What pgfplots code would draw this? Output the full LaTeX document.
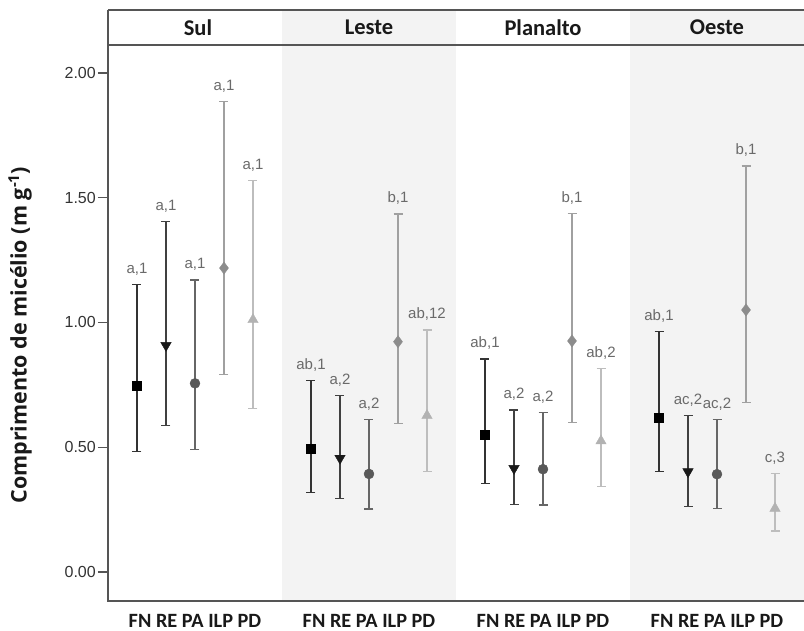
\documentclass[border=0pt]{standalone}
\usepackage{pgfplots}
\pgfplotsset{compat=1.18}
\usepackage{pgfplotstable}
\usepackage{fontspec}
\setmainfont{Liberation Sans}
\newfontfamily\carlito{Carlito}
\newfontfamily\opensans{Open Sans}
\definecolor{frame}{HTML}{555555}
\definecolor{panelgray}{HTML}{F3F3F3}
\definecolor{cFN}{HTML}{333333}
\definecolor{cRE}{HTML}{404040}
\definecolor{cPA}{HTML}{666666}
\definecolor{cILP}{HTML}{A0A0A0}
\definecolor{cPD}{HTML}{BDBDBD}
\definecolor{lab}{HTML}{6A6A6A}

\pgfplotstableread{
x y top bot label
1 0.745 1.152 0.483 {a,1}
7 0.493 0.767 0.319 {ab,1}
13 0.549 0.854 0.355 {ab,1}
19 0.619 0.963 0.402 {ab,1}
}\FN
\pgfplotstableread{
x y top bot label
2 0.908 1.404 0.586 {a,1}
8 0.456 0.708 0.294 {a,2}
14 0.415 0.649 0.271 {a,2}
20 0.402 0.627 0.262 {ac,2}
}\RE
\pgfplotstableread{
x y top bot label
3 0.756 1.170 0.490 {a,1}
9 0.393 0.612 0.252 {a,2}
15 0.412 0.639 0.269 {a,2}
21 0.392 0.612 0.255 {ac,2}
}\PA
\pgfplotstableread{
x y top bot label
4 1.218 1.887 0.790 {a,1}
10 0.923 1.435 0.596 {b,1}
16 0.926 1.438 0.599 {b,1}
22 1.050 1.627 0.679 {b,1}
}\ILP
\pgfplotstableread{
x y top bot label
5 1.011 1.570 0.655 {a,1}
11 0.627 0.970 0.402 {ab,12}
17 0.525 0.816 0.342 {ab,2}
23 0.255 0.396 0.164 {c,3}
}\PD

\begin{document}
\begin{tikzpicture}
\useasboundingbox (-108pt,-30pt) rectangle (696pt,601pt);
\begin{axis}[
  at={(0,0)}, anchor=south west,
  width=696pt, height=556pt, scale only axis,
  xmin=0, xmax=24, ymin=-0.1162, ymax=2.112,
  clip=false,
  axis line style={draw=none},
  xtick={3,9,15,21},
  xticklabels={FN RE PA ILP PD,FN RE PA ILP PD,FN RE PA ILP PD,FN RE PA ILP PD},
  xticklabel style={font=\carlito\bfseries\fontsize{20.3}{20}\selectfont, text=black!90, yshift=0pt},
  x tick label style={inner sep=3pt},
  major x tick style={draw=none},
  ytick={0,0.5,1,1.5,2},
  yticklabels={0.00,0.50,1.00,1.50,2.00},
  yticklabel style={font=\fontsize{16}{16}\selectfont, text=black!80, inner sep=2pt},
  /pgf/number format/assume math mode=true,
  tick align=outside,
  major tick length=10pt,
  major y tick style={draw=frame, line width=1.2pt},
  nodes near coords style={font=\fontsize{15}{15}\selectfont, text=lab, anchor=south, inner sep=1pt, yshift=8pt},
]
% shaded panels
\fill[panelgray] (axis cs:6,-0.1162) rectangle (axis cs:12,2.2525);
\fill[panelgray] (axis cs:18,-0.1162) rectangle (axis cs:24,2.2525);
% frame
\draw[frame, line width=1.5pt] (axis cs:0,2.2525) -- (axis cs:0,-0.1162) -- (axis cs:24,-0.1162);
\draw[frame, line width=1.5pt] (axis cs:0,2.2525) -- (axis cs:24,2.2525);
\draw[frame, line width=1.5pt] (axis cs:0,2.112) -- (axis cs:24,2.112);
% headers
\node[font=\carlito\bfseries\fontsize{22.5}{22}\selectfont, text=black!90] at (axis cs:3.1,2.182) {Sul};
\node[font=\carlito\bfseries\fontsize{22.5}{22}\selectfont, text=black!90] at (axis cs:9,2.182) {Leste};
\node[font=\carlito\bfseries\fontsize{22.5}{22}\selectfont, text=black!90] at (axis cs:15,2.182) {Planalto};
\node[font=\carlito\bfseries\fontsize{22.5}{22}\selectfont, text=black!90] at (axis cs:21,2.182) {Oeste};
% y label
\node[rotate=90, font=\opensans\bfseries\fontsize{21.5}{21.5}\selectfont, text=black!90] at (axis description cs:-0.1264,0.478) {Comprimento de micélio (m g\textsuperscript{-1})};

% FN
\addplot[cFN, only marks, mark=square*, mark size=4.6pt, mark options={fill=black, draw=black},
  error bars/.cd, y dir=both, y explicit, error bar style={line width=2pt, cFN},
  error mark options={rotate=90, mark size=4.5pt, line width=1.4pt, cFN}]
  table[x=x, y=y, y error plus expr=\thisrow{top}-\thisrow{y}, y error minus expr=\thisrow{y}-\thisrow{bot}] {\FN};
% RE
\addplot[cRE, only marks, mark=triangle*, mark size=6pt, mark options={rotate=180, fill=black!90, draw=black!90},
  error bars/.cd, y dir=both, y explicit, error bar style={line width=1.8pt, cRE},
  error mark options={rotate=90, mark size=4.5pt, line width=1.3pt, cRE}]
  table[x=x, y=y, y error plus expr=\thisrow{top}-\thisrow{y}, y error minus expr=\thisrow{y}-\thisrow{bot}] {\RE};
% PA
\addplot[cPA, only marks, mark=*, mark size=5pt, mark options={fill=black!65, draw=black!65},
  error bars/.cd, y dir=both, y explicit, error bar style={line width=1.7pt, cPA},
  error mark options={rotate=90, mark size=4.5pt, line width=1.3pt, cPA}]
  table[x=x, y=y, y error plus expr=\thisrow{top}-\thisrow{y}, y error minus expr=\thisrow{y}-\thisrow{bot}] {\PA};
% ILP
\addplot[cILP, only marks, mark=diamond*, mark size=6pt, mark options={fill=black!45, draw=black!45},
  error bars/.cd, y dir=both, y explicit, error bar style={line width=1.6pt, cILP},
  error mark options={rotate=90, mark size=4.5pt, line width=1.2pt, cILP}]
  table[x=x, y=y, y error plus expr=\thisrow{top}-\thisrow{y}, y error minus expr=\thisrow{y}-\thisrow{bot}] {\ILP};
% PD
\addplot[cPD, only marks, mark=triangle*, mark size=6pt, mark options={fill=black!30, draw=black!30},
  error bars/.cd, y dir=both, y explicit, error bar style={line width=1.5pt, cPD},
  error mark options={rotate=90, mark size=4.5pt, line width=1.2pt, cPD}]
  table[x=x, y=y, y error plus expr=\thisrow{top}-\thisrow{y}, y error minus expr=\thisrow{y}-\thisrow{bot}] {\PD};

% letters
\addplot[only marks, mark=none, nodes near coords, point meta=explicit symbolic] table[x=x, y=top, meta=label] {\FN};
\addplot[only marks, mark=none, nodes near coords, point meta=explicit symbolic] table[x=x, y=top, meta=label] {\RE};
\addplot[only marks, mark=none, nodes near coords, point meta=explicit symbolic] table[x=x, y=top, meta=label] {\PA};
\addplot[only marks, mark=none, nodes near coords, point meta=explicit symbolic] table[x=x, y=top, meta=label] {\ILP};
\addplot[only marks, mark=none, nodes near coords, point meta=explicit symbolic] table[x=x, y=top, meta=label] {\PD};
\end{axis}
\end{tikzpicture}
\end{document}
